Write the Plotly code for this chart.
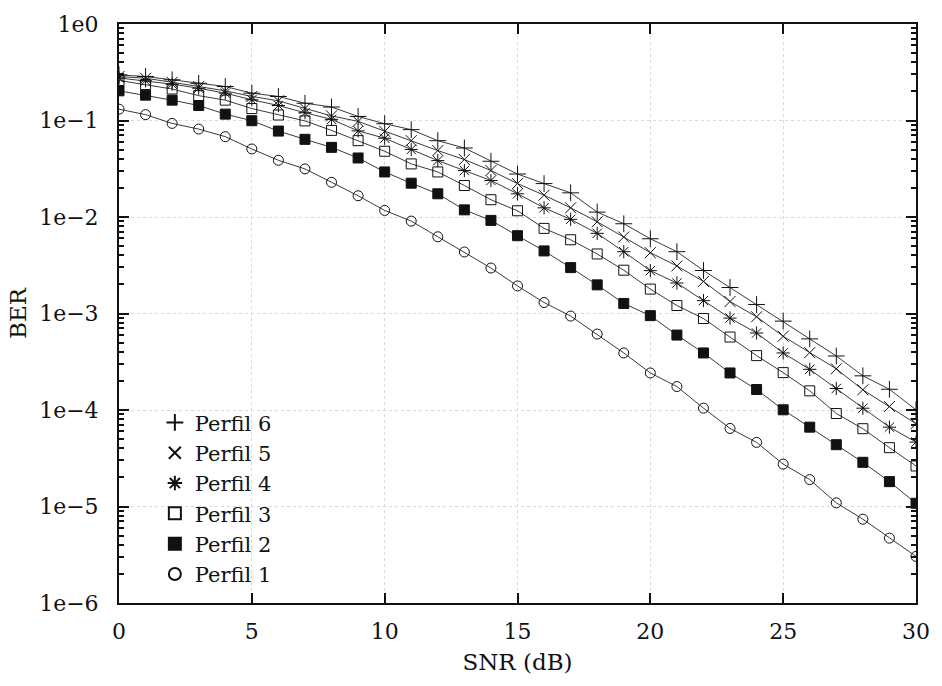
import plotly.graph_objects as go

snr = list(range(0, 31))

perfil1 = [0.131, 0.115, 0.0933, 0.0815, 0.068, 0.0507, 0.0387, 0.0315, 0.0229, 0.0166, 0.0117,
           0.00907, 0.00624, 0.00434, 0.00296, 0.00193, 0.0013, 0.00094, 0.000612, 0.00039, 0.000242,
           0.000175, 0.0001045, 6.44e-5, 4.62e-5, 2.75e-5, 1.9e-5, 1.09e-5, 7.39e-6, 4.7e-6, 3.04e-6]
perfil2 = [0.203, 0.183, 0.1625, 0.143, 0.1164, 0.0995, 0.0777, 0.0638, 0.0527, 0.0409, 0.0293,
           0.0224, 0.0174, 0.01186, 0.00922, 0.0064, 0.00445, 0.00299, 0.00198, 0.00127, 0.00095,
           0.000598, 0.00039, 0.000242, 0.000163, 0.0001005, 6.64e-5, 4.37e-5, 2.87e-5, 1.81e-5, 1.08e-5]
perfil3 = [0.26, 0.236, 0.212, 0.181, 0.1625, 0.133, 0.114, 0.099, 0.079, 0.0618, 0.048,
           0.0355, 0.0293, 0.0212, 0.0151, 0.0116, 0.00762, 0.00581, 0.00414, 0.00281, 0.00179,
           0.00121, 0.000887, 0.00057, 0.000366, 0.000244, 0.000158, 9.2e-5, 6.4e-5, 4.07e-5, 2.63e-5]
perfil4 = [0.276, 0.258, 0.238, 0.216, 0.192, 0.164, 0.143, 0.1204, 0.1027, 0.0781, 0.0655,
           0.0501, 0.0384, 0.0303, 0.0239, 0.0174, 0.01245, 0.00945, 0.00677, 0.00437, 0.00278,
           0.00207, 0.00136, 0.000896, 0.000628, 0.00039, 0.000264, 0.000167, 0.0001044, 6.64e-5, 4.65e-5]
perfil5 = [0.2855, 0.274, 0.249, 0.225, 0.203, 0.1774, 0.16, 0.1333, 0.1116, 0.0979, 0.0772,
           0.0618, 0.0488, 0.0394, 0.0303, 0.0222, 0.01684, 0.01245, 0.00892, 0.0062, 0.00427,
           0.00311, 0.00215, 0.00133, 0.000925, 0.000581, 0.000393, 0.000267, 0.000162, 0.0001087, 7.2e-5]
perfil6 = [0.297, 0.2855, 0.264, 0.243, 0.225, 0.192, 0.1774, 0.151, 0.138, 0.1102, 0.0926,
           0.0804, 0.0618, 0.0519, 0.0378, 0.0279, 0.0222, 0.0178, 0.01124, 0.00851, 0.00595,
           0.00437, 0.00279, 0.00186, 0.00124, 0.000834, 0.000546, 0.000363, 0.000226, 0.000164, 0.0001005]

series_names = ["Perfil 6", "Perfil 5", "Perfil 4", "Perfil 3", "Perfil 2", "Perfil 1"]
series_data = [perfil6, perfil5, perfil4, perfil3, perfil2, perfil1]
symbols = ["cross-thin-open", "x-thin-open", "asterisk-open", "square-open", "square", "circle-open"]
sizes = [12, 11, 11, 10, 10, 10]

x_ticks = [0, 5, 10, 15, 20, 25, 30]
y_tickvals = [1e-6, 1e-5, 1e-4, 1e-3, 1e-2, 1e-1, 1]
y_ticktext = ["1e\u22126", "1e\u22125", "1e\u22124", "1e\u22123", "1e\u22122", "1e\u22121", "1e0"]

minor_vals = [m * 10.0 ** e for e in range(-6, 0) for m in range(2, 10)]

FONT = "DejaVu Serif"

fig = go.Figure()

# connecting curves (not in legend)
for name, ys in zip(series_names, series_data):
    fig.add_trace(go.Scatter(
        x=snr, y=ys, mode="lines", showlegend=False, hoverinfo="skip",
        line=dict(color="#3a3a3a", width=1),
    ))

# markers (legend entries)
for name, ys, sym, sz in zip(series_names, series_data, symbols, sizes):
    fig.add_trace(go.Scatter(
        x=snr, y=ys, mode="markers", name=name,
        marker=dict(symbol=sym, size=sz, color="#111111",
                    line=dict(color="#111111", width=1)),
    ))

fig.update_layout(
    width=942, height=686,
    margin=dict(l=119, r=19, t=22, b=83),
    paper_bgcolor="white", plot_bgcolor="white",
    font=dict(family=FONT, size=22, color="#111111"),
    legend=dict(
        x=0.045, y=0.015, xanchor="left", yanchor="bottom",
        bgcolor="rgba(0,0,0,0)", borderwidth=0,
        font=dict(family=FONT, size=21, color="#111111"),
        tracegroupgap=0, itemsizing="constant",
    ),
    xaxis=dict(
        range=[0, 30], tickvals=x_ticks, ticks="inside", ticklen=10, tickwidth=1.5,
        tickcolor="#111111", showline=True, linecolor="#111111", linewidth=2, mirror="ticks",
        showgrid=True, gridcolor="#d9d9d9", griddash="dot", gridwidth=1,
        zeroline=False, ticklabelstandoff=8,
        title=dict(text="SNR (dB)", font=dict(family=FONT, size=23), standoff=10),
        tickfont=dict(family=FONT, size=22),
    ),
    yaxis=dict(
        type="log", range=[-6, 0], tickvals=y_tickvals, ticktext=y_ticktext,
        ticks="inside", ticklen=10, tickwidth=1.5, tickcolor="#111111",
        showline=True, linecolor="#111111", linewidth=2, mirror="ticks",
        showgrid=True, gridcolor="#d9d9d9", griddash="dot", gridwidth=1,
        zeroline=False, ticklabelstandoff=14,
        minor=dict(tickvals=minor_vals, ticks="inside", ticklen=5, tickcolor="#111111",
                   showgrid=False),
        title=dict(text="BER", font=dict(family=FONT, size=23), standoff=6),
        tickfont=dict(family=FONT, size=22),
    ),
)

fig.write_html("out.html")
